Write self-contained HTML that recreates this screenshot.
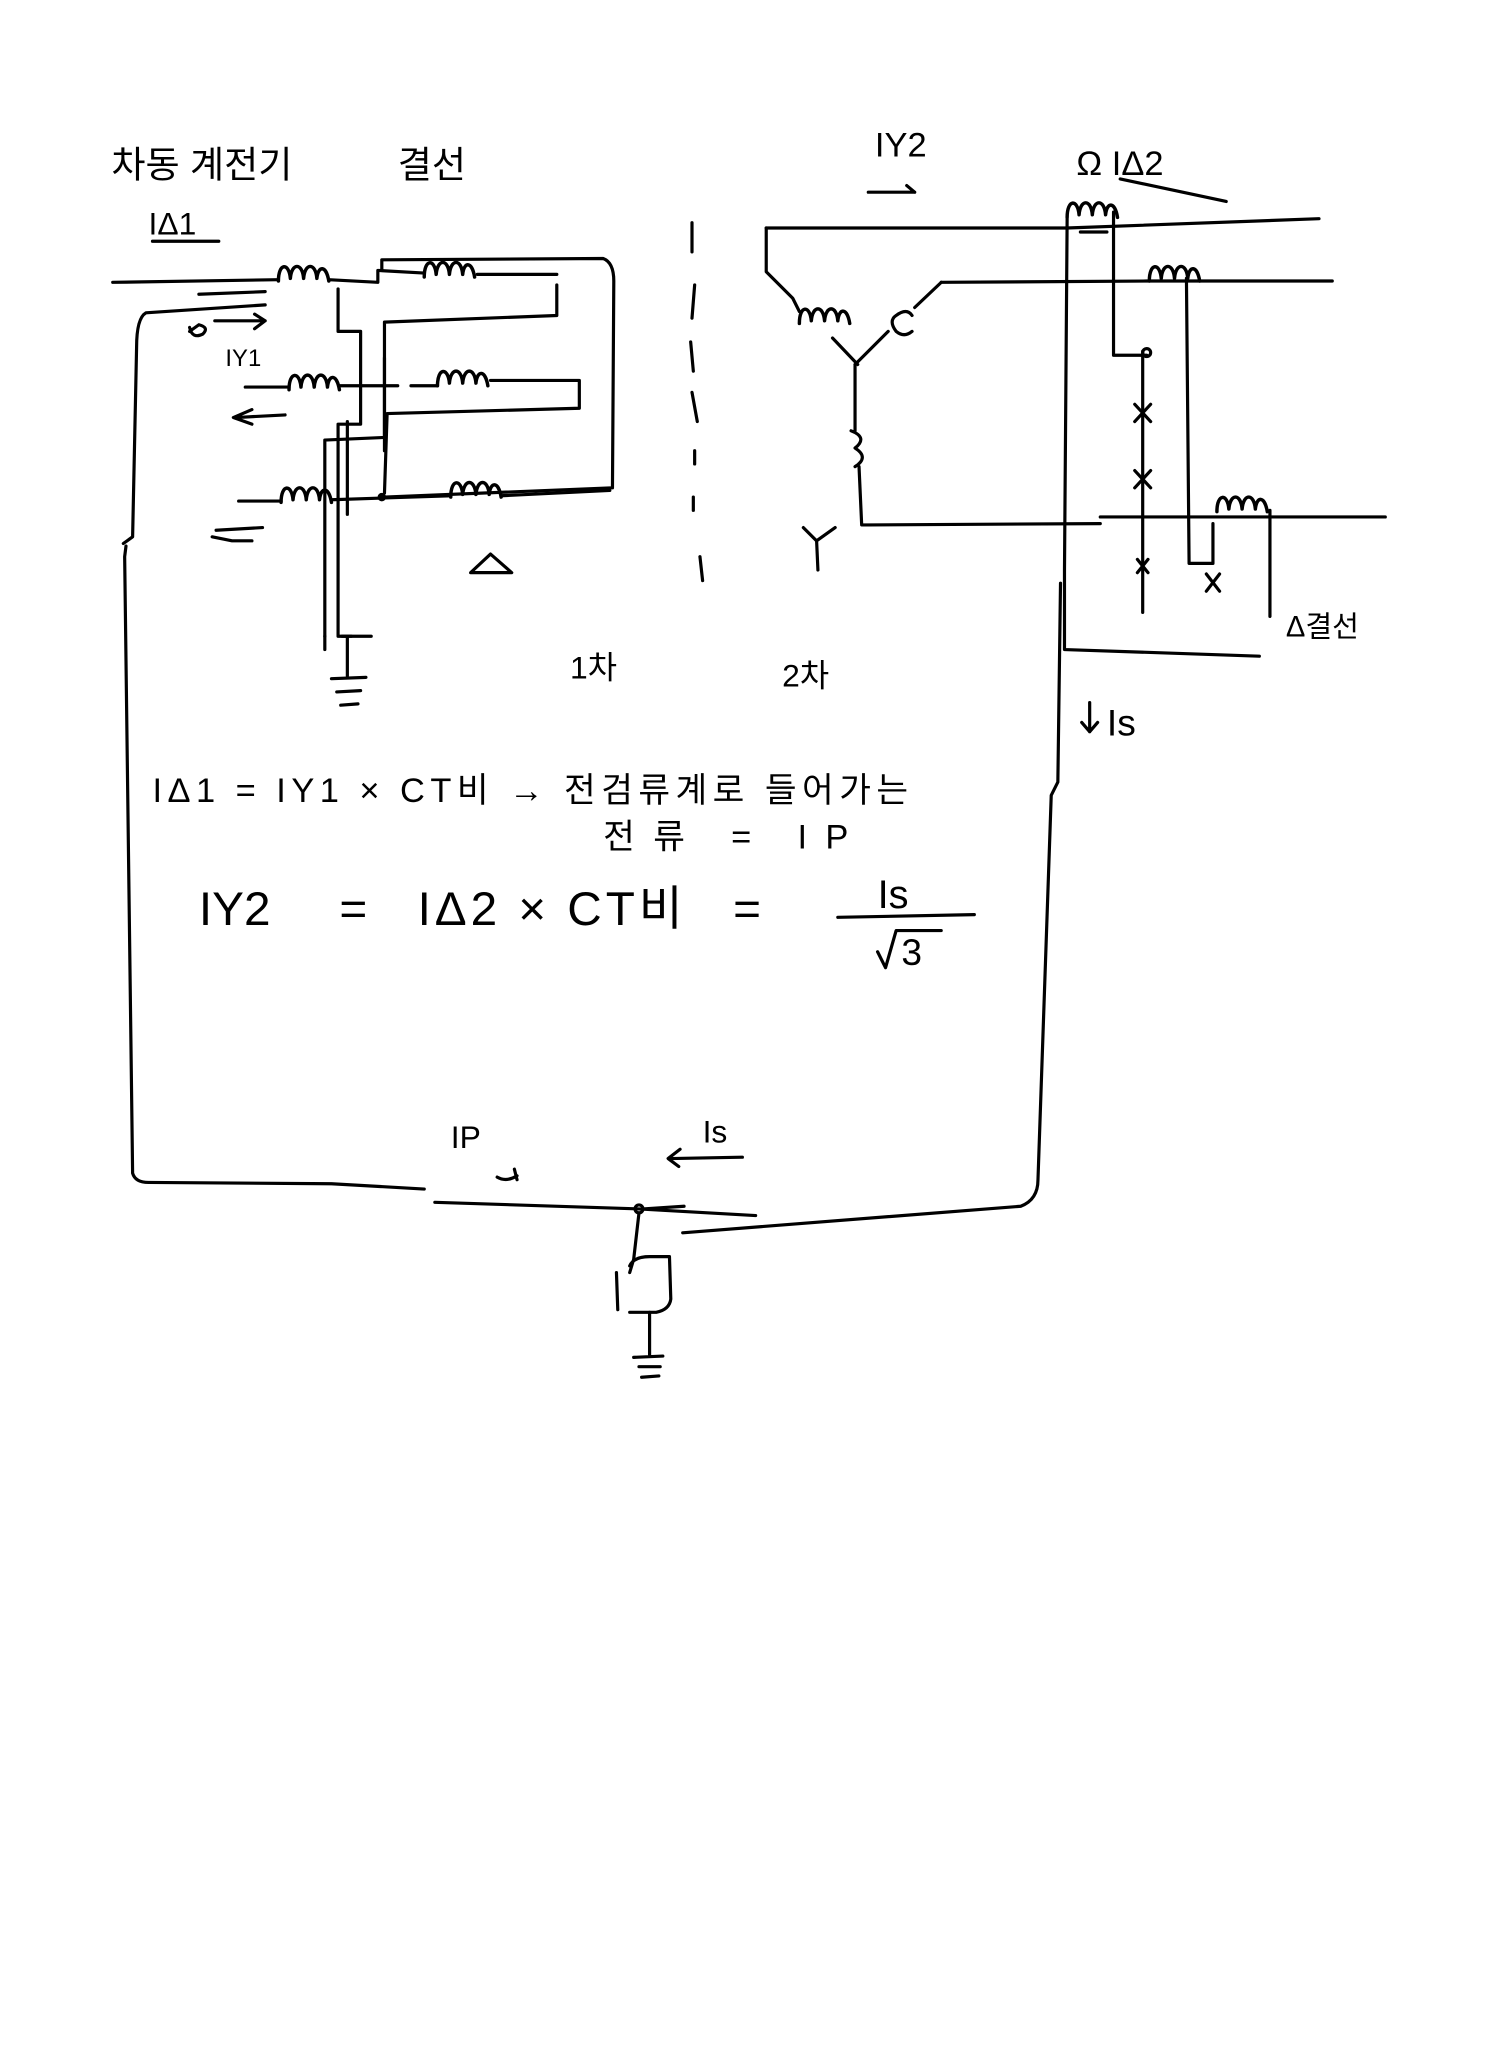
<!DOCTYPE html>
<html><head><meta charset="utf-8"><style>
html,body{margin:0;padding:0;background:#fff}
svg{display:block}
text{font-family:"Liberation Sans","Noto Sans CJK KR","NanumGothic",sans-serif;fill:#000}
</style></head><body>
<svg width="1498" height="2048" viewBox="0 0 1130 1545" xmlns="http://www.w3.org/2000/svg">
<defs>
<path id="coil" d="M0,6 C0,-8 8,-8 9,4 C10,-8 18,-8 19,4 C20,-8 28,-8 29,4 C30,-6 36,-6 38,6" fill="none" stroke="#000" stroke-width="2.6"/>
</defs>
<g fill="none" stroke="#000" stroke-width="2.4" stroke-linecap="round" stroke-linejoin="round">
<path d="M85,213 L210,211"/><use href="#coil" x="210" y="206"/>
<path d="M248,211 L285,213 L285,204 L320,206"/><use href="#coil" x="320" y="203"/>
<path d="M360,207 L420,207"/>
<path d="M288,204 L288,196 L455,195 Q463,198 463,212 L462,368 L290,375"/>
<path d="M150,222 L200,220"/>
<path d="M200,230 L110,236 Q103,240 103,262 L100,405 L93,410"/>
<path d="M95,412 L94,420 L100,885 Q102,892 112,892 L250,893 L320,897"/>
<path d="M255,218 L255,250 L272,250 L272,320 L255,320 L255,480 L265,480"/>
<path d="M262,318 L262,388"/>
<path d="M420,215 L420,238 L290,243 L290,330 L245,332 L245,480"/>
<path d="M290,270 L290,340"/>
<path d="M185,292 L218,292"/><use href="#coil" x="218" y="288"/>
<path d="M256,291 L300,291 M310,291 L330,291"/><use href="#coil" x="330" y="285"/>
<path d="M370,287 L437,287 L437,308 L292,312 L290,372"/>
<path d="M215,313 L178,315 M190,309 L176,315 L190,320"/>
<path d="M180,378 L212,378"/><use href="#coil" x="212" y="373"/>
<path d="M250,377 L340,374"/><use href="#coil" x="340" y="369"/>
<path d="M378,374 L460,370"/>
<path d="M163,400 L198,398 M160,405 L175,408 L190,408"/>
<circle cx="288" cy="375" r="2" fill="#000"/>
<path d="M245,480 L245,490 M258,480 L280,480 M262,480 L262,510"/>
<path d="M250,512 L276,511 M254,522 L272,521 M257,532 L270,531"/>
<path d="M143,247 Q145,256 153,252 Q158,247 150,245 L143,250 M162,242 L200,242 M192,237 L200,242 L192,248"/>
<path d="M355,432 L370,418 L386,432 Z"/>
<path d="M522,168 L522,190 M524,215 L522,240 M521,258 L523,280 M522,296 L526,318 M524,340 L524,350 M523,375 L523,385 M528,420 L530,438"/>
<path d="M578,172 L578,205 L598,225 L603,235"/><use href="#coil" x="603" y="238"/>
<path d="M628,255 L647,275 M670,250 L645,275 M710,213 L690,232"/>
<path d="M676,238 Q670,242 676,250 Q682,255 688,250 M676,238 Q684,232 688,238"/>
<path d="M645,275 L645,325 M642,325 Q655,330 645,338 Q656,345 645,352 M648,352 L650,396 L655,396 L830,395"/>
<path d="M606,398 L616,408 L630,398 M616,408 L617,430"/>
<path d="M578,172 L805,172 L995,165"/><use href="#coil" x="805" y="158"/>
<path d="M815,175 L835,175 M710,213 L865,212 L1005,212"/><use href="#coil" x="867" y="206"/>
<path d="M830,390 L1045,390"/><use href="#coil" x="918" y="380"/>
<path d="M805,165 L803,430 L803,490 L950,495 M840,160 L840,268 L865,268 M862,265 L862,462 M895,210 L897,425 L915,425 L915,395 M958,385 L958,465"/>
<path d="M856,305 L868,318 M868,305 L856,318 M856,355 L868,368 M868,355 L856,368 M858,422 L866,432 M866,422 L858,432 M910,433 L920,446 M920,433 L910,446"/>
<circle cx="865" cy="266" r="3"/>
<path d="M800,440 L798,590 L793,600 L783,890 Q783,905 770,910 L515,930"/>
<path d="M328,907 L482,912 L570,917 M485,912 L516,910"/>
<circle cx="482" cy="912" r="3"/>
<path d="M482,915 L478,950 L475,960 M475,955 Q478,948 490,948 L505,948 L506,980 Q505,988 495,990 L475,990 M465,960 L466,988"/>
<path d="M490,990 L490,1022 M478,1024 L500,1023 M482,1031 L498,1031 M484,1039 L497,1038"/>
<path d="M655,145 L690,145 M684,140 L690,145"/>
<path d="M375,888 Q382,892 390,887 M388,882 L390,890"/>
<path d="M560,873 L506,874 M513,867 L504,874 L512,880"/>
<path d="M822,530 L822,552 M816,545 L822,552 L828,545"/>
<path d="M845,135 L925,152 M115,182 L165,182"/>
<path d="M632,692 L735,690"/>
<path d="M662,718 L668,730 L676,702 L710,702"/>
</g>
<g font-size="28">
<text x="84" y="134">차동 계전기</text>
<text x="300" y="134">결선</text>
<text x="112" y="177" font-size="24">IΔ1</text>
<text x="170" y="276" font-size="18">IY1</text>
<text x="660" y="118" font-size="26">IY2</text>
<text x="812" y="132" font-size="26">Ω IΔ2</text>
<text x="970" y="480" font-size="22">Δ결선</text>
<text x="835" y="555" font-size="28">Is</text>
<text x="430" y="512" font-size="24">1차</text>
<text x="590" y="518" font-size="24">2차</text>
<text x="115" y="605" font-size="26" textLength="570" lengthAdjust="spacing">IΔ1 = IY1 × CT비 → 전검류계로 들어가는</text>
<text x="455" y="640" font-size="26" textLength="185" lengthAdjust="spacing">전류 = IP</text>
<text x="150" y="698" font-size="36">IY2</text>
<text x="256" y="698" font-size="36">=</text>
<text x="315" y="698" font-size="36" textLength="200" lengthAdjust="spacing">IΔ2 × CT비</text>
<text x="553" y="698" font-size="36">=</text>
<text x="662" y="685" font-size="30">Is</text>
<text x="680" y="728" font-size="28">3</text>
<text x="340" y="866" font-size="24">IP</text>
<text x="530" y="862" font-size="24">Is</text>
</g>
</svg>
</body></html>
